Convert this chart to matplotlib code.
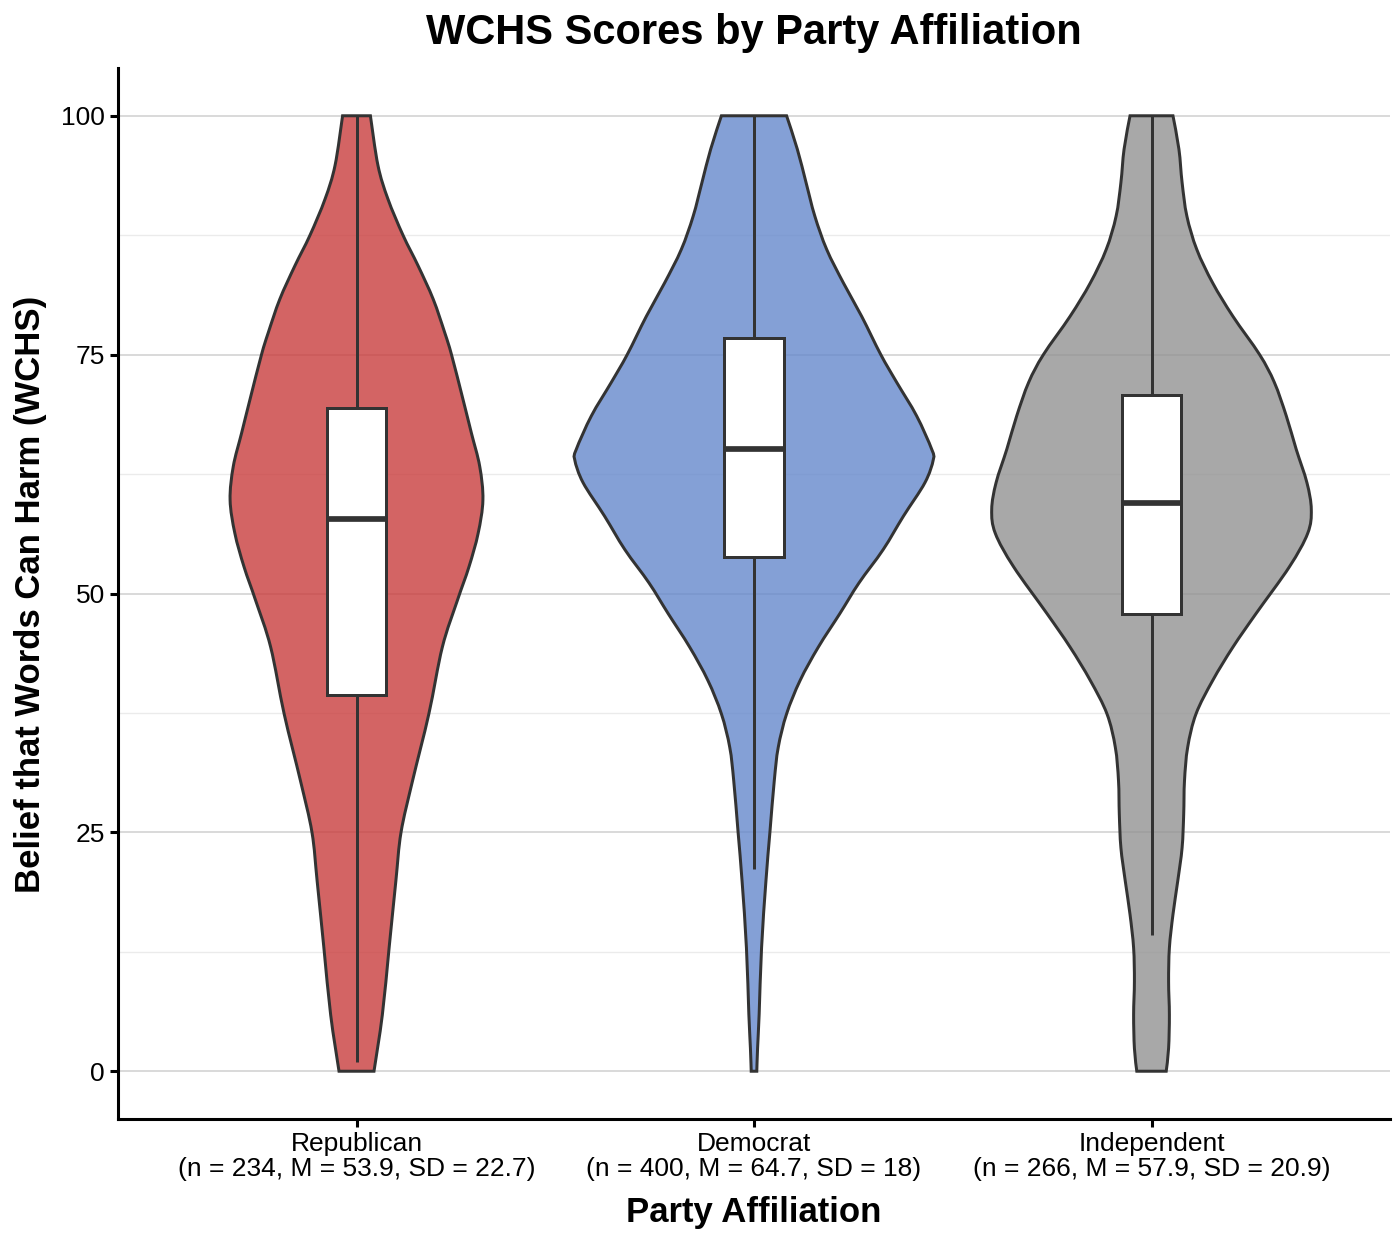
import matplotlib
matplotlib.use("Agg")
import matplotlib.pyplot as plt
from matplotlib.patches import Rectangle, PathPatch
from matplotlib.path import Path
import numpy as np

plt.rcParams['font.family'] = ['Liberation Sans', 'DejaVu Sans']

# ---------------- data ----------------
parties = ["Republican", "Democrat", "Independent"]
n_values = [234, 400, 266]
means = ["53.9", "64.7", "57.9"]
sds = ["22.7", "18", "20.9"]

# violin outlines: score levels and half-widths (x units)
rep_y = [0, 5.9, 12.9, 19.9, 25.0, 30.4, 37.4, 44.4, 49.3, 52.8, 56.3, 59.8,
         63.3, 66.8, 70.3, 75.0, 77.3, 80.8, 84.3, 87.5, 91.3, 94.8, 100]
rep_w = [0.044, 0.065, 0.082, 0.099, 0.112, 0.141, 0.182, 0.216, 0.254, 0.283, 0.306, 0.318,
         0.310, 0.289, 0.268, 0.239, 0.222, 0.193, 0.155, 0.117, 0.079, 0.054, 0.035]

dem_y = [0, 2.4, 6.0, 12.9, 19.9, 25.0, 30.4, 33.9, 37.4, 40.9, 44.4, 47.9, 51.1,
         54.6, 58.1, 61.6, 64.0, 65.1, 68.6, 72.1, 75.0, 79.0, 82.5, 86.0, 89.5, 93.0, 96.5, 100]
dem_w = [0.007, 0.009, 0.013, 0.019, 0.030, 0.040, 0.051, 0.061, 0.082, 0.116, 0.162, 0.216, 0.264,
         0.325, 0.376, 0.430, 0.451, 0.447, 0.409, 0.359, 0.319, 0.271, 0.225, 0.183, 0.153, 0.131, 0.109, 0.082]

ind_y = [0, 2.4, 5.9, 9.4, 12.9, 16.4, 19.9, 23.4, 26.9, 30.4, 33.9, 37.4, 40.9, 44.4, 47.9,
         52.8, 56.3, 58.8, 61.6, 65.1, 68.6, 72.1, 75.0, 79.0, 82.5, 86.0, 89.5, 93.0, 96.5, 100]
ind_w = [0.037, 0.043, 0.045, 0.043, 0.045, 0.054, 0.066, 0.077, 0.081, 0.083, 0.091, 0.112, 0.154, 0.205, 0.263,
         0.347, 0.393, 0.402, 0.391, 0.364, 0.339, 0.309, 0.272, 0.205, 0.154, 0.114, 0.089, 0.077, 0.069, 0.054]

# boxplot statistics
box_q1 = [39.4, 53.8, 47.9]
box_med = [57.8, 65.1, 59.5]
box_q3 = [69.4, 76.7, 70.8]
whisk_lo = [1.0, 21.2, 14.3]
whisk_hi = [100, 100, 100]

y_ticks = [0, 25, 50, 75, 100]
y_minor = [12.5, 37.5, 62.5, 87.5]

# ---------------- style ----------------
fill_colors = ["#C93D3D", "#6588CC", "#929292"]
fill_alpha = 0.8
edge = "#333333"
lw_px = 3.0
lw = lw_px * 72 / 100


def smooth_side(px, py):
    """Bezier (Catmull-Rom) segments through the outline points of one side."""
    pts = np.column_stack([px, py])
    n = len(pts)
    verts, codes = [], []
    for k in range(n - 1):
        p0 = pts[max(k - 1, 0)]
        p1 = pts[k]
        p2 = pts[k + 1]
        p3 = pts[min(k + 2, n - 1)]
        c1 = p1 + (p2 - p0) / 6.0
        c2 = p2 - (p3 - p1) / 6.0
        verts += [tuple(c1), tuple(c2), tuple(p2)]
        codes += [Path.CURVE4] * 3
    return verts, codes


def violin_path(pos, vy, vw):
    vy = np.asarray(vy, float)
    vw = np.asarray(vw, float)
    rx, ry = pos + vw, vy                      # right side, bottom -> top
    lx, ly = (pos - vw)[::-1], vy[::-1]        # left side, top -> bottom
    verts = [(rx[0], ry[0])]
    codes = [Path.MOVETO]
    v, c = smooth_side(rx, ry)
    verts += v; codes += c
    verts.append((lx[0], ly[0])); codes.append(Path.LINETO)
    v, c = smooth_side(lx, ly)
    verts += v; codes += c
    verts.append((rx[0], ry[0])); codes.append(Path.CLOSEPOLY)
    return Path(verts, codes)


fig = plt.figure(figsize=(14, 12.46), dpi=100)
W, H = 1400, 1246
ax = fig.add_axes([118 / W, 1 - 1119 / H, (1390 - 118) / W, (1119 - 68) / H])

ax.set_xlim(0.4, 3.6)
ax.set_ylim(-5, 105)

# grid
for v in y_minor:
    ax.axhline(v, color="#EBEBEB", lw=1.0, zorder=0)
for v in y_ticks:
    ax.axhline(v, color="#D9D9D9", lw=1.4, zorder=0)

violins = [(rep_y, rep_w), (dem_y, dem_w), (ind_y, ind_w)]
box_half = 0.075
for i, (vy, vw) in enumerate(violins):
    pos = i + 1
    path = violin_path(pos, vy, vw)
    ax.add_patch(PathPatch(path, facecolor=fill_colors[i], alpha=fill_alpha, edgecolor="none", zorder=2))
    ax.add_patch(PathPatch(path, facecolor="none", edgecolor=edge, lw=lw, zorder=2.1))
    # whiskers
    ax.plot([pos, pos], [box_q3[i], whisk_hi[i]], color=edge, lw=lw, zorder=3, solid_capstyle="butt")
    ax.plot([pos, pos], [whisk_lo[i], box_q1[i]], color=edge, lw=lw, zorder=3, solid_capstyle="butt")
    # box
    ax.add_patch(Rectangle((pos - box_half, box_q1[i]), 2 * box_half, box_q3[i] - box_q1[i],
                           facecolor="white", edgecolor=edge, lw=lw, zorder=4))
    ax.plot([pos - box_half, pos + box_half], [box_med[i], box_med[i]], color=edge,
            lw=lw * 1.9, zorder=5, solid_capstyle="butt")

# axes styling
for s in ["top", "right"]:
    ax.spines[s].set_visible(False)
for s in ["left", "bottom"]:
    ax.spines[s].set_linewidth(2.2)
    ax.spines[s].set_color("black")

ax.set_yticks(y_ticks)
ax.set_yticklabels([str(t) for t in y_ticks])
ax.set_xticks([1, 2, 3])
labels = [f"{p}\n(n = {n}, M = {m}, SD = {s})" for p, n, m, s in zip(parties, n_values, means, sds)]
ax.set_xticklabels(labels, linespacing=1.05)
ax.tick_params(axis="both", length=5.8, width=2.2, color="black", labelsize=19, labelcolor="black")
ax.tick_params(axis="y", pad=3.5)
ax.tick_params(axis="x", pad=3.5)

fig.text(754 / W, 1 - 44 / H, "WCHS Scores by Party Affiliation", ha="center", va="baseline",
         fontsize=30, fontweight="bold")
fig.text(754 / W, 1 - 1222 / H, "Party Affiliation", ha="center", va="baseline",
         fontsize=25, fontweight="bold")
fig.text(31 / W, 1 - 594 / H, "Belief that Words Can Harm (WCHS)", ha="center", va="center",
         rotation=90, fontsize=25, fontweight="bold")

fig.savefig("out.png", dpi=100, facecolor="white")
